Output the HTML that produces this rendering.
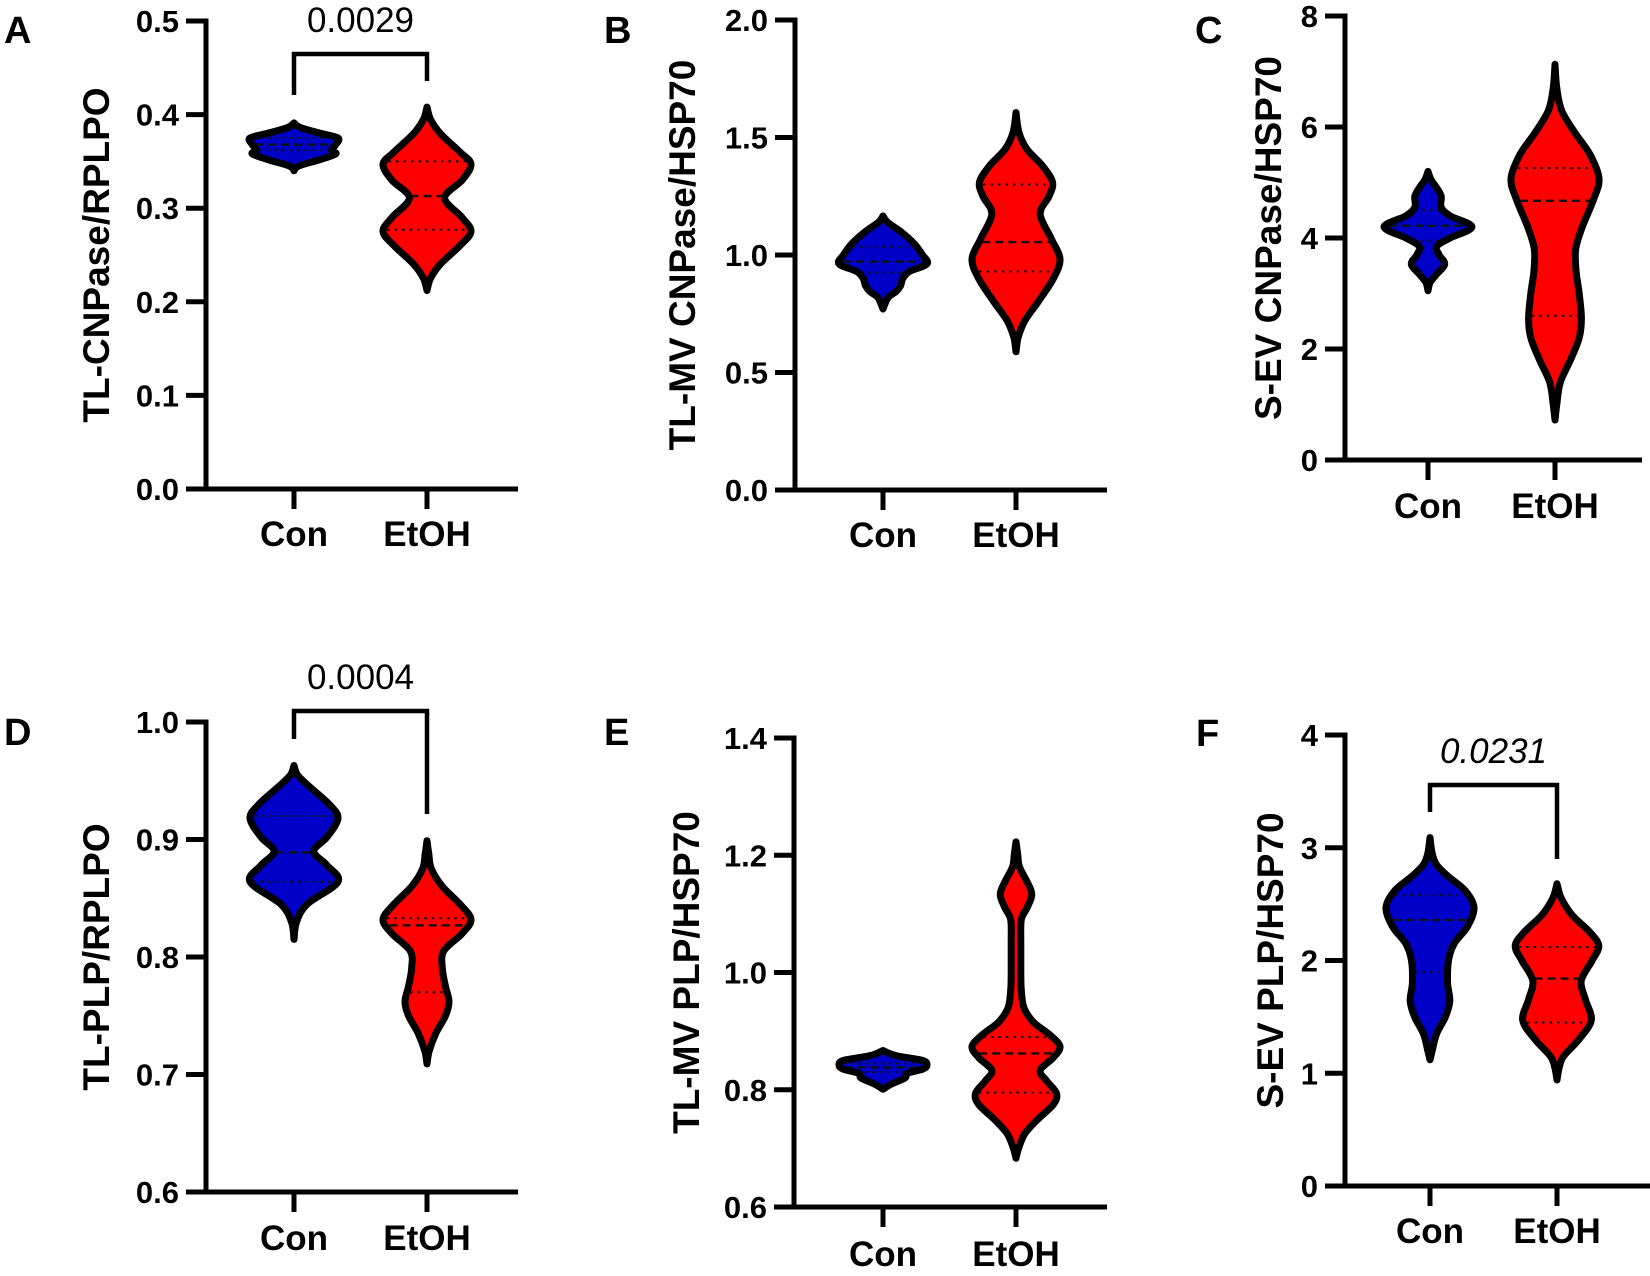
<!DOCTYPE html>
<html><head><meta charset="utf-8"><style>
html,body{margin:0;padding:0;background:#fff;}
svg{display:block;font-family:"Liberation Sans",Arial,sans-serif;}
</style></head><body>
<svg id="fig" width="1650" height="1276" viewBox="0 0 1650 1276" xmlns="http://www.w3.org/2000/svg"></svg>
<script>
const categories = ["Con", "EtOH"];
const panelLetters = ["A", "B", "C", "D", "E", "F"];
const yTitles = ["TL-CNPase/RPLPO", "TL-MV CNPase/HSP70", "S-EV CNPase/HSP70", "TL-PLP/RPLPO", "TL-MV PLP/HSP70", "S-EV PLP/HSP70"];
const pValues = ["0.0029", null, null, "0.0004", null, "0.0231"];

// violin density profiles: values along y and relative half-widths
const aConV = [0.340,0.345,0.352,0.358,0.362,0.368,0.375,0.380,0.386,0.391];
const aConD = [0,0.1,0.6,0.95,0.85,0.95,1.0,0.6,0.15,0];
const aConQ = [0.362,0.368,0.375];
const aEtV = [0.212,0.225,0.24,0.26,0.275,0.29,0.311,0.33,0.347,0.36,0.38,0.395,0.408];
const aEtD = [0,0.08,0.3,0.75,1.0,0.8,0.4,0.8,1.0,0.75,0.3,0.08,0];
const aEtQ = [0.277,0.313,0.35];

const bConV = [0.77,0.79,0.82,0.845,0.87,0.9,0.93,0.962,1.0,1.05,1.1,1.14,1.166];
const bConD = [0,0.04,0.12,0.3,0.4,0.45,0.6,1.0,0.9,0.7,0.4,0.1,0];
const bConQ = [0.925,0.972,1.035];
const bEtV = [0.588,0.65,0.72,0.8,0.9,0.983,1.07,1.174,1.25,1.31,1.38,1.45,1.52,1.606];
const bEtD = [0,0.05,0.2,0.5,0.85,1.0,0.8,0.55,0.75,0.83,0.6,0.25,0.07,0];
const bEtQ = [0.93,1.055,1.30];

const cConV = [3.05,3.2,3.35,3.53,3.7,3.85,4.0,4.2,4.4,4.55,4.75,4.9,5.05,5.2];
const cConD = [0,0.05,0.2,0.38,0.25,0.2,0.5,1.0,0.5,0.3,0.3,0.2,0.07,0];
const cConQ = [3.95,4.22,4.5];
const cEtV = [0.72,1.0,1.4,1.8,2.2,2.55,3.0,3.4,3.8,4.2,4.7,5.07,5.5,5.9,6.3,6.7,7.13];
const cEtD = [0,0.04,0.12,0.35,0.55,0.6,0.55,0.48,0.47,0.62,0.88,1.0,0.8,0.45,0.15,0.04,0];
const cEtQ = [2.6,4.67,5.26];

const dConV = [0.815,0.83,0.845,0.864,0.878,0.89,0.902,0.918,0.93,0.945,0.955,0.963];
const dConD = [0,0.06,0.3,1.0,0.75,0.45,0.75,1.0,0.8,0.35,0.08,0];
const dConQ = [0.864,0.889,0.92];
const dEtV = [0.709,0.72,0.735,0.75,0.762,0.775,0.79,0.805,0.82,0.832,0.845,0.86,0.875,0.888,0.899];
const dEtD = [0,0.05,0.2,0.42,0.5,0.42,0.35,0.38,0.8,1.0,0.75,0.35,0.1,0.04,0];
const dEtQ = [0.77,0.827,0.833];

const eConV = [0.801,0.81,0.82,0.828,0.835,0.842,0.85,0.858,0.867];
const eConD = [0,0.2,0.5,0.55,0.9,1.0,0.9,0.3,0];
const eConQ = [0.83,0.838,0.845];
const eEtV = [0.683,0.70,0.725,0.75,0.775,0.794,0.815,0.833,0.855,0.874,0.895,0.915,0.94,0.97,1.0,1.05,1.09,1.11,1.133,1.155,1.18,1.2,1.223];
const eEtD = [0,0.06,0.2,0.5,0.85,0.92,0.7,0.55,0.85,1.0,0.75,0.4,0.18,0.12,0.11,0.11,0.12,0.25,0.36,0.25,0.08,0.04,0];
const eEtQ = [0.795,0.862,0.89];

const fConV = [1.12,1.2,1.35,1.5,1.64,1.8,2.0,2.15,2.3,2.47,2.62,2.75,2.85,2.95,3.09];
const fConD = [0,0.05,0.15,0.35,0.45,0.4,0.42,0.55,0.85,1.0,0.8,0.4,0.15,0.05,0];
const fConQ = [1.9,2.36,2.58];
const fEtV = [0.94,1.05,1.15,1.3,1.47,1.65,1.82,2.0,2.13,2.25,2.4,2.55,2.68];
const fEtD = [0,0.05,0.15,0.5,0.78,0.65,0.55,0.8,0.95,0.75,0.35,0.1,0];
const fEtQ = [1.45,1.84,2.12];

const yMins = [0, 0, 0, 0.6, 0.6, 0];
const yMaxs = [0.5, 2.0, 8, 1.0, 1.4, 4];
const yTicks = [[0,0.1,0.2,0.3,0.4,0.5],[0,0.5,1.0,1.5,2.0],[0,2,4,6,8],[0.6,0.7,0.8,0.9,1.0],[0.6,0.8,1.0,1.2,1.4],[0,1,2,3,4]];
const tickDecimals = [1,1,0,1,1,0];

const violinData = [
  [[aConV,aConD,aConQ],[aEtV,aEtD,aEtQ]],
  [[bConV,bConD,bConQ],[bEtV,bEtD,bEtQ]],
  [[cConV,cConD,cConQ],[cEtV,cEtD,cEtQ]],
  [[dConV,dConD,dConQ],[dEtV,dEtD,dEtQ]],
  [[eConV,eConD,eConQ],[eEtV,eEtD,eEtQ]],
  [[fConV,fConD,fConQ],[fEtV,fEtD,fEtQ]]
];

// layout (pixels)
const layout = [
  {ax:206,y0:489,yTop:21,xs:[294,427],xEnd:518,titleX:96,labX:4,labY:43,xlab:546,br:[54,95,81,32],italic:false},
  {ax:795,y0:490,yTop:20,xs:[883,1016],xEnd:1107,titleX:682,labX:604,labY:43,xlab:547,br:null},
  {ax:1345,y0:460,yTop:16,xs:[1428,1555],xEnd:1642,titleX:1268,labX:1195,labY:43,xlab:518,br:null},
  {ax:206,y0:1192,yTop:722,xs:[294,427],xEnd:518,titleX:96,labX:4,labY:745,xlab:1250,br:[711,739,814,689],italic:false},
  {ax:794,y0:1207,yTop:738,xs:[883,1016],xEnd:1107,titleX:686,labX:604,labY:745,xlab:1266,br:null},
  {ax:1345,y0:1186,yTop:735,xs:[1430,1557],xEnd:1650,titleX:1270,labX:1196,labY:746,xlab:1243,br:[785,812,859,763],italic:true}
];
const fills = ["#0000c8", "#ff0000"];
const HALF = 44;

const NS = "http://www.w3.org/2000/svg";
const svg = document.getElementById("fig");
function mk(tag, attrs, parent) {
  const e = document.createElementNS(NS, tag);
  for (const k in attrs) e.setAttribute(k, attrs[k]);
  (parent || svg).appendChild(e);
  return e;
}
function smoothPath(pts) {
  let d = "M" + pts[0][0].toFixed(1) + "," + pts[0][1].toFixed(1);
  for (let i = 0; i < pts.length - 1; i++) {
    const p0 = pts[i - 1] || pts[i], p1 = pts[i], p2 = pts[i + 1], p3 = pts[i + 2] || p2;
    const c1x = p1[0] + (p2[0] - p0[0]) / 6, c1y = p1[1] + (p2[1] - p0[1]) / 6;
    const c2x = p2[0] - (p3[0] - p1[0]) / 6, c2y = p2[1] - (p3[1] - p1[1]) / 6;
    d += "C" + c1x.toFixed(1) + "," + c1y.toFixed(1) + " " + c2x.toFixed(1) + "," + c2y.toFixed(1) + " " + p2[0].toFixed(1) + "," + p2[1].toFixed(1);
  }
  return d;
}
function densAt(vals, dens, v) {
  for (let i = 0; i < vals.length - 1; i++) {
    if (v >= vals[i] && v <= vals[i + 1]) {
      const t = (v - vals[i]) / (vals[i + 1] - vals[i]);
      return dens[i] + t * (dens[i + 1] - dens[i]);
    }
  }
  return 0;
}

layout.forEach((L, pi) => {
  const g = mk("g", {});
  
  
  const vmin = yMins[pi], vmax = yMaxs[pi];
  const yS = v => L.y0 - (v - vmin) / (vmax - vmin) * (L.y0 - L.yTop);

  violinData[pi].forEach((vd, ci) => {
    const [vals, dens, q] = vd;
    const cx = L.xs[ci];
    const right = vals.map((v, i) => [cx + dens[i] * HALF, yS(v)]);
    const left = vals.map((v, i) => [cx - dens[i] * HALF, yS(v)]).reverse();
    const d = smoothPath(right) + smoothPath(left).replace(/^M/, "L") + "Z";
    const vg = mk("g", {}, g);
    
    
    const body = mk("path", {d: d, fill: fills[ci], stroke: "none"}, vg);
    
    
    q.forEach((qv, qi) => {
      const w = densAt(vals, dens, qv) * HALF - 3;
      if (w <= 0) return;
      const ln = mk("line", {x1: cx - w, x2: cx + w, y1: yS(qv), y2: yS(qv), stroke: "#111",
        "stroke-width": qi === 1 ? 2.4 : 2, "stroke-dasharray": qi === 1 ? "8 5" : "2.5 5"}, vg);
      
      
    });
    const outline = mk("path", {d: d, fill: "none", stroke: "#000", "stroke-width": 7, "stroke-linejoin": "round", "stroke-linecap": "round"}, vg);
    
    
  });

  const ya = mk("line", {x1: L.ax, x2: L.ax, y1: L.yTop - 2.5, y2: L.y0 + 2.5, stroke: "#000", "stroke-width": 5}, g);
  
  
  const xa = mk("line", {x1: L.ax - 20, x2: L.xEnd, y1: L.y0, y2: L.y0, stroke: "#000", "stroke-width": 5}, g);
  
  
  yTicks[pi].forEach(t => {
    const y = yS(t);
    const tk = mk("line", {x1: L.ax - 20, x2: L.ax, y1: y, y2: y, stroke: "#000", "stroke-width": 5}, g);
    
    
    const tl = mk("text", {x: L.ax - 27, y: y + 11, "text-anchor": "end", "font-size": 31, "font-weight": "bold"}, g);
    tl.textContent = t.toFixed(tickDecimals[pi]);
    
    
  });
  categories.forEach((c, ci) => {
    const x = L.xs[ci];
    const tk = mk("line", {x1: x, x2: x, y1: L.y0, y2: L.y0 + 20, stroke: "#000", "stroke-width": 5}, g);
    
    
    const tl = mk("text", {x: x, y: L.xlab, "text-anchor": "middle", "font-size": 35, "font-weight": "bold"}, g);
    tl.textContent = c;
    
    
  });
  const midY = (L.y0 + L.yTop) / 2;
  const tt = mk("text", {x: 0, y: 0, "text-anchor": "middle", "font-size": 37, "font-weight": "bold",
    transform: "translate(" + (L.titleX + 13) + "," + midY + ") rotate(-90)"}, g);
  tt.textContent = yTitles[pi];
  
  
  const lab = mk("text", {x: L.labX, y: L.labY, "font-size": 38, "font-weight": "bold"}, g);
  lab.textContent = panelLetters[pi];
  
  

  if (L.br && pValues[pi]) {
    const [top, lb, rb, tb] = L.br;
    const x1 = L.xs[0], x2 = L.xs[1];
    const br = mk("path", {d: "M" + x1 + "," + lb + "V" + top + "H" + x2 + "V" + rb, fill: "none", stroke: "#000", "stroke-width": 4.5}, g);
    
    
    const pt = mk("text", {x: (x1 + x2) / 2, y: tb, "text-anchor": "middle", "font-size": 35, "font-style": L.italic ? "italic" : "normal"}, g);
    pt.textContent = pValues[pi];
    
    
  }
});
</script>
</body></html>
